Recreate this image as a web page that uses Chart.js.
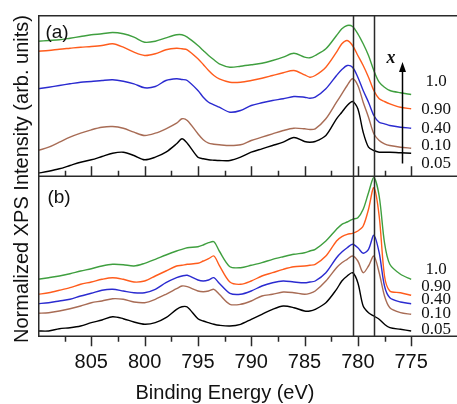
<!DOCTYPE html>
<html>
<head>
<meta charset="utf-8">
<script src="https://cdn.jsdelivr.net/npm/chart.js@4.4.1/dist/chart.umd.min.js"></script>
<style>
  html, body { margin: 0; padding: 0; background: #fff; }
  #wrap { position: relative; width: 457px; height: 404px; overflow: hidden;
          font-family: "Liberation Sans", Arial, sans-serif; color: #111; }
  #cA { position: absolute; left: 0; top: 0; }
  #cB { position: absolute; left: 0; top: 176px; }
  .t  { position: absolute; transform: translate(-50%, -50%); white-space: nowrap; line-height: 1; }
  .xv { font-family: "Liberation Serif", "Times New Roman", serif; font-size: 17px; }
  .panel { font-size: 19px; }
  #ytitle { font-size: 20px; transform: translate(-50%, -50%) rotate(-90deg); }
  #xtitle { font-size: 20px; }
  #xsym { font-family: "Liberation Serif", serif; font-style: italic; font-weight: bold; font-size: 18px; }
</style>
</head>
<body>
<div id="wrap">
  <canvas id="cA" width="457" height="177"></canvas>
  <canvas id="cB" width="457" height="211"></canvas>

  <div class="t panel" style="left:57px;top:31px">(a)</div>
  <div class="t panel" style="left:59px;top:196px">(b)</div>
  <div class="t" id="ytitle" style="left:21px;top:179px">Normalized XPS Intensity (arb. units)</div>
  <div class="t" id="xtitle" style="left:225px;top:392px">Binding Energy (eV)</div>
  <div class="t" id="xsym" style="left:391px;top:57px">x</div>

  <div class="t xv" style="left:436px;top:80px">1.0</div>
  <div class="t xv" style="left:436px;top:108px">0.90</div>
  <div class="t xv" style="left:436px;top:127px">0.40</div>
  <div class="t xv" style="left:436px;top:144px">0.10</div>
  <div class="t xv" style="left:436px;top:162px">0.05</div>

  <div class="t xv" style="left:436px;top:268px">1.0</div>
  <div class="t xv" style="left:436px;top:285px">0.90</div>
  <div class="t xv" style="left:436px;top:298px">0.40</div>
  <div class="t xv" style="left:436px;top:312px">0.10</div>
  <div class="t xv" style="left:436px;top:328px">0.05</div>
</div>

<script>
/* ── data ─────────────────────────────────────────────────────────────── */

const ENERGY = [810,809,808,807,806,805,804,803,802,801,800,799,798,797,796.5,796,795,794.5,794,793.5,793,
                792,791,790,789,788,787,786,785,784.5,784,783,782,781.5,781,780.5,780,779.5,779,778.5,778,
                777.5,777,776,775];

const X_LABELS = ['1.0', '0.90', '0.40', '0.10', '0.05'];
const COLORS   = ['#3f9f3f', '#ff5c1c', '#2b2bd0', '#a86c55', '#000000'];

// panel (a)
const A_10  = [135.8,136.5,137.2,138.8,140.5,142.2,143.2,144.5,143.2,139.8,134.8,135.8,139.2,142.2,142.2,139.8,131.5,126.5,121.5,117.2,113.2,
               109.8,110.8,112.2,113.8,116.5,119.8,123.8,119.8,119.2,121.5,128.2,141.5,148.2,151.5,150.5,143.2,133.2,121.5,106.5,94.8,
               89.8,86.5,84.2,82.5];
const A_090 = [125.8,126.5,127.8,128.8,129.8,130.5,131.5,133.2,129.8,124.8,121.5,123.2,127.2,128.8,128.2,127.2,118.2,112.5,106.5,101.5,98.2,
               94.8,94.8,96.5,98.8,101.5,104.2,106.5,102.2,99.8,101.5,109.8,124.8,133.2,136.5,131.5,121.5,111.5,99.8,86.5,78.2,
               75.5,73.2,69.8,68.2];
const A_040 = [88.2,89.8,91.5,93.2,94.8,95.5,96.5,97.2,95.8,93.2,89.2,90.5,96.5,98.2,97.5,96.5,86.5,79.8,74.8,72.2,69.8,
               64.8,66.5,71.5,74.2,76.5,78.2,80.5,79.8,78.8,79.8,88.2,101.5,107.5,111.5,109.8,99.8,86.5,74.8,61.5,54.8,
               53.2,51.5,49.8,48.8];
const A_010 = [26.5,29.8,34.8,39.8,43.8,47.2,49.8,50.5,48.8,44.8,41.5,43.8,48.2,53.8,58.2,56.5,43.2,37.2,33.8,32.8,32.2,
               31.5,32.2,36.5,39.8,43.2,46.5,48.8,48.2,47.5,48.2,58.2,74.8,83.2,91.5,98.2,91.5,74.8,59.8,43.2,36.5,
               33.2,31.5,29.8,28.8];
const A_005 = [3.8,5.8,8.2,11.5,14.8,17.2,20.5,23.8,24.8,21.5,17.2,19.8,24.8,33.2,38.2,33.8,19.8,18.2,17.2,16.8,16.5,
               16.5,19.8,24.8,28.2,31.5,34.8,39.5,35.5,34.8,35.5,41.5,58.2,64.8,71.5,75.5,68.2,44.8,29.8,26.5,24.8,
               24.8,24.8,24.2,23.8];

// panel (b)
const B_10  = [57.7,59.3,61,63.3,66,68.3,71,72.7,72.3,71,73.7,77.7,82,86,87.7,89.3,90.3,92,94.3,95.3,86,
               70.3,69.3,71.7,74.3,77.7,80.3,82.7,84.3,86,87.7,96,107.7,112.7,115,117.7,119.3,127.7,144.3,159.3,141,
               94.3,72.7,62.7,57.7];
const B_090 = [42.7,44.3,46.7,49.3,52.7,55,57.7,59.3,57.7,55,56,61,66,71,71.7,72.7,73.7,76,78.3,81,71.7,
               55,52.7,56,61,64.3,67.7,70.3,71,71.7,72.7,81,96,100.3,102.7,103.7,106,111,127.7,149.3,121,
               61,46,44.3,41.7];
const B_040 = [33.3,34.3,36,37.7,41,43.7,46.7,47.7,46,44.3,44.3,47.7,54.3,59.3,61,61.7,57,56,57,59.3,53.7,
               43.7,42.7,46,51,54.3,56,55,54.3,55,56,64.3,79.3,85,89.3,92.7,89.3,83.7,87.7,101.7,84.3,
               51,39.3,35,33.3];
const B_010 = [23.7,24.3,26,28.3,31,34.3,36,38.3,37.7,35,34.3,37.7,42.7,48.3,51,50.3,46,45.3,46,47.7,42.7,
               32.7,32.7,36,41,42.7,45,44.3,42.7,43.7,46,56,69.3,74.3,77.7,81,76,64.3,71,81,64.3,
               41,29.3,24.3,22.7];
const B_005 = [6,6,8.3,9.3,11,14.3,17,20.3,18.3,15,12.7,14.3,19.3,27.7,30.3,30,18.3,16,14.3,12.7,11.7,
               11,12.7,17.7,22.7,27.7,31,29.3,26,26,27.7,34.3,47.7,56,61,64.3,54.3,31,24.3,21,17.7,
               12.7,9.3,7.7,6];

const MAJOR_TICKS = [805, 800, 795, 790, 785, 780, 775];
const MINOR_TICKS = [807.5, 802.5, 797.5, 792.5, 787.5, 782.5, 777.5];
const MARK_LINES  = [780.5, 778.5];      // vertical reference lines (eV)
const X_RANGE     = [770.7, 810];
const ARROW       = { e: 775.9, from: 13.5, to: 115 };

// ── frame, ticks, marker lines, arrow ─────────────────────────────────────

const decor = {
  id: 'decor',
  afterDatasetsDraw(chart, args, o) {
    const { ctx, chartArea: a, scales: { x, y } } = chart;
    ctx.save();
    ctx.strokeStyle = '#2a2a2a';
    ctx.lineWidth = 1.5;

    ctx.beginPath();
    MARK_LINES.forEach(e => {
      const px = Math.round(x.getPixelForValue(e)) + 0.5;
      ctx.moveTo(px, a.top); ctx.lineTo(px, a.bottom);
    });
    ctx.stroke();

    const bot = a.bottom - 0.75;
    ctx.beginPath();
    ctx.moveTo(a.left + 0.75, o.top ? a.top : a.top - 1);
    ctx.lineTo(a.left + 0.75, bot);
    ctx.lineTo(a.right, bot);
    if (o.top) { ctx.moveTo(a.left, a.top + 0.75); ctx.lineTo(a.right, a.top + 0.75); }
    ctx.stroke();

    const dir = o.inside ? -1 : 1;
    ctx.beginPath();
    MAJOR_TICKS.forEach(e => {
      const px = Math.round(x.getPixelForValue(e)) + 0.5;
      ctx.moveTo(px, bot); ctx.lineTo(px, bot + dir * 10);
    });
    MINOR_TICKS.forEach(e => {
      const px = Math.round(x.getPixelForValue(e)) + 0.5;
      ctx.moveTo(px, bot); ctx.lineTo(px, bot + dir * 5.5);
    });
    ctx.stroke();

    if (o.arrow) {
      const px = Math.round(x.getPixelForValue(ARROW.e)) + 0.5;
      const y0 = y.getPixelForValue(ARROW.from), y1 = y.getPixelForValue(ARROW.to);
      ctx.fillStyle = '#000';
      ctx.strokeStyle = '#000';
      ctx.beginPath();
      ctx.moveTo(px, y0); ctx.lineTo(px, y1 + 8);
      ctx.stroke();
      ctx.beginPath();
      ctx.moveTo(px, y1); ctx.lineTo(px - 3.5, y1 + 10); ctx.lineTo(px + 3.5, y1 + 10);
      ctx.closePath(); ctx.fill();
    }
    ctx.restore();
  }
};

function makeSets(series) {
  return series.map((vals, i) => ({
    label: X_LABELS[i],
    data: vals,
    borderColor: COLORS[i],
    borderWidth: 1.4,
    pointRadius: 0,
    tension: 0.3,
    fill: false,
  }));
}

function makeChart(id, series, opts) {
  return new Chart(document.getElementById(id), {
    type: 'line',
    data: { labels: ENERGY, datasets: makeSets(series) },
    options: {
      responsive: false,
      animation: false,
      events: [],
      layout: { padding: { left: 38, top: opts.padTop, right: 0, bottom: 0 } },
      plugins: { legend: { display: false }, tooltip: { enabled: false }, decor: opts.decor },
      scales: {
        x: {
          type: 'linear', reverse: true, min: X_RANGE[0], max: X_RANGE[1],
          display: opts.showX,
          grid: { display: false, drawTicks: false },
          border: { display: false },
          afterBuildTicks: s => { s.ticks = MAJOR_TICKS.map(v => ({ value: v })); },
          ticks: {
            color: '#111', padding: 13, autoSkip: false, maxRotation: 0,
            font: { family: '"Liberation Sans", Arial, sans-serif', size: 20 },
          },
        },
        y: { display: false, min: 0, max: opts.yMax },
      },
    },
    plugins: [decor],
  });
}

makeChart('cA', [A_10, A_090, A_040, A_010, A_005],
          { padTop: 15, showX: false, yMax: 162, decor: { top: true, inside: true, arrow: true } });
makeChart('cB', [B_10, B_090, B_040, B_010, B_005],
          { padTop: 0, showX: true, yMax: 161, decor: { top: false, inside: false, arrow: false } });
</script>
</body>
</html>
